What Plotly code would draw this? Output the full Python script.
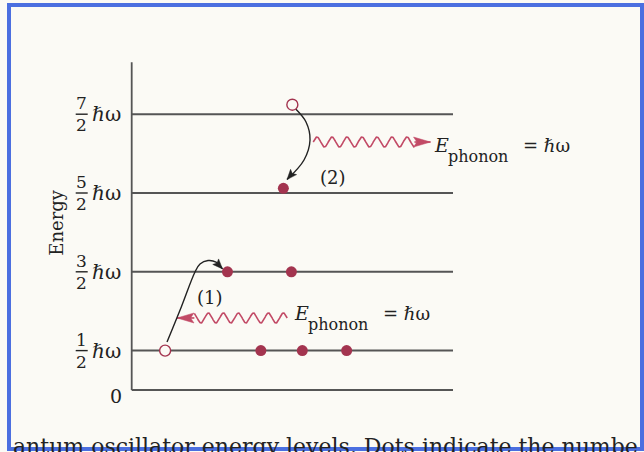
import numpy as np
import plotly.graph_objects as go

# ---- data ----
levels = [0.0, 0.5, 1.5, 2.5, 3.5]
level_nums = ["1", "3", "5", "7"]          # numerators of n+1/2
level_den = "2"
level_frac_values = [0.5, 1.5, 2.5, 3.5]
level_x_end = 10.0
axis_top = 4.16

filled_x = [4.02, 5.31, 6.69, 2.98, 4.97, 4.72]
filled_y = [0.5, 0.5, 0.5, 1.5, 1.5, 2.56]
open_x = [1.04, 5.0]
open_y = [0.5, 3.62]

arrow1_x = [1.099, 1.55, 1.970, 2.126, 2.375, 2.624, 2.826]
arrow1_y = [0.609, 1.06, 1.497, 1.599, 1.643, 1.624, 1.536]
arrow2_x = [5.082, 5.425, 5.550, 5.363, 4.834]
arrow2_y = [3.575, 3.401, 3.173, 2.919, 2.671]

wave2 = dict(x0=5.65, x1=8.80, tip=9.30, y=3.147)   # emitted phonon -> right
wave1 = dict(x0=4.84, x1=1.95, tip=1.41, y=0.914)   # absorbed phonon <- left

# pixel scale of axes (x units / y units per px)
PX_X = 32.13
PX_Y = 78.8
W, H = 644, 452
x_range = [-131.7 / PX_X, (W - 131.7) / PX_X]
y_range = [(390 - H) / PX_Y, 390 / PX_Y]

BG = "#fbfaf5"
LINE = "#555555"
DOT = "#a3344f"
WAVE = "#c24a66"
INK = "#222222"
FONT = "DejaVu Serif"

fig = go.Figure()

# axis line
fig.add_trace(go.Scatter(x=[0, 0], y=[0, axis_top], mode="lines",
                         line=dict(color=LINE, width=1.8), hoverinfo="skip"))
# level lines
for lv in levels:
    fig.add_trace(go.Scatter(x=[0, level_x_end], y=[lv, lv], mode="lines",
                             line=dict(color=LINE, width=2), hoverinfo="skip"))

# waves
def wave_pts(w, amp_px=5.0, lam_px=15.0):
    n = 300
    xs = np.linspace(w["x0"], w["x1"], n)
    dist_px = np.abs(xs - w["x0"]) * PX_X
    ys = w["y"] + (amp_px / PX_Y) * np.sin(2 * np.pi * dist_px / lam_px)
    return xs, ys

def head(tx, ty, dxp, dyp, length_px, half_w_px):
    """filled arrowhead polygon with tip at (tx, ty), pointing along pixel dir."""
    L = np.hypot(dxp, dyp)
    ux, uy = dxp / L, dyp / L
    nx, ny = -uy, ux
    bx, by = -ux * length_px, -uy * length_px
    px = [0, bx + nx * half_w_px, bx * 0.8, bx - nx * half_w_px, 0]
    py = [0, by + ny * half_w_px, by * 0.8, by - ny * half_w_px, 0]
    return ([tx + p / PX_X for p in px], [ty + q / PX_Y for q in py])

for w in (wave2, wave1):
    xs, ys = wave_pts(w)
    fig.add_trace(go.Scatter(x=xs, y=ys, mode="lines",
                             line=dict(color=WAVE, width=1.6), hoverinfo="skip"))
    fig.add_trace(go.Scatter(x=[w["x1"], w["tip"]], y=[w["y"], w["y"]], mode="lines",
                             line=dict(color=WAVE, width=1.6), hoverinfo="skip"))
    hx, hy = head(w["tip"], w["y"], np.sign(w["tip"] - w["x1"]), 0.0, 17, 5)
    fig.add_trace(go.Scatter(x=hx, y=hy, mode="lines", fill="toself", fillcolor=WAVE,
                             line=dict(color=WAVE, width=0.5), hoverinfo="skip"))

# transition curves
for ax_, ay_ in ((arrow1_x, arrow1_y), (arrow2_x, arrow2_y)):
    fig.add_trace(go.Scatter(x=ax_, y=ay_, mode="lines",
                             line=dict(color=INK, width=1.4, shape="spline"),
                             hoverinfo="skip"))
    dxp = (ax_[-1] - ax_[-2]) * PX_X
    dyp = (ay_[-1] - ay_[-2]) * PX_Y
    hx, hy = head(ax_[-1], ay_[-1], dxp, dyp, 10, 4)
    fig.add_trace(go.Scatter(x=hx, y=hy, mode="lines", fill="toself", fillcolor=INK,
                             line=dict(color=INK, width=0.5), hoverinfo="skip"))

# dots
fig.add_trace(go.Scatter(x=filled_x, y=filled_y, mode="markers",
                         marker=dict(size=11, color=DOT, line=dict(width=0)),
                         hoverinfo="skip"))
fig.add_trace(go.Scatter(x=open_x, y=open_y, mode="markers",
                         marker=dict(size=11, color=BG, line=dict(width=1.4, color=DOT)),
                         hoverinfo="skip"))

ann = []
shapes = []

# level labels
for num, lv in zip(level_nums, level_frac_values):
    ann.append(dict(x=0, y=lv, xref="x", yref="y", text=num, showarrow=False,
                    xshift=-50, yshift=11, font=dict(family=FONT, size=17, color=INK)))
    ann.append(dict(x=0, y=lv, xref="x", yref="y", text=level_den, showarrow=False,
                    xshift=-50, yshift=-11, font=dict(family=FONT, size=17, color=INK)))
    ann.append(dict(x=0, y=lv, xref="x", yref="y", text="ℏω", showarrow=False,
                    xshift=-25, yshift=0, font=dict(family=FONT, size=20, color=INK)))
    shapes.append(dict(type="line", xref="x", yref="y", xsizemode="pixel", xanchor=0,
                       x0=-56, x1=-44, y0=lv, y1=lv, line=dict(color=INK, width=1.4)))
ann.append(dict(x=0, y=0, xref="x", yref="y", text="0", showarrow=False,
                xshift=-16, yshift=-6, font=dict(family=FONT, size=19, color=INK)))
ann.append(dict(x=0, y=(390 - 222) / PX_Y, xref="x", yref="y", text="Energy",
                showarrow=False, xshift=-76, textangle=-90,
                font=dict(family=FONT, size=18, color=INK)))

# phonon labels: E, subscript, "= ℏω"
def phonon_label(x_left_px, y_px):
    xl = (x_left_px - 131.7) / PX_X
    yv = (390 - y_px) / PX_Y
    return [
        dict(x=xl, y=yv, xref="x", yref="y", text="<i>E</i>", showarrow=False,
             xanchor="left", borderpad=0, font=dict(family=FONT, size=19, color=INK)),
        dict(x=xl, y=yv, xref="x", yref="y", text="phonon", showarrow=False,
             xanchor="left", xshift=14, yshift=-11, borderpad=0,
             font=dict(family=FONT, size=16, color=INK)),
        dict(x=xl, y=yv, xref="x", yref="y", text="= ℏω", showarrow=False,
             xanchor="left", xshift=89, borderpad=0,
             font=dict(family=FONT, size=18, color=INK)),
    ]

ann += phonon_label(433, 145)
ann += phonon_label(293, 313)
ann.append(dict(x=(333 - 131.7) / PX_X, y=(390 - 177) / PX_Y, xref="x", yref="y",
                text="(2)", showarrow=False, font=dict(family=FONT, size=18, color=INK)))
ann.append(dict(x=(210 - 131.7) / PX_X, y=(390 - 297) / PX_Y, xref="x", yref="y",
                text="(1)", showarrow=False, font=dict(family=FONT, size=18, color=INK)))

# caption (cut by frame)
ann.append(dict(x=11 / W, y=1 - 432 / H, xref="paper", yref="paper", xanchor="left",
                yanchor="top", text="antum oscillator energy levels. Dots indicate the numbe",
                showarrow=False, font=dict(family=FONT, size=22, color=INK)))

# blue frame + mask below it
shapes.append(dict(type="rect", xref="paper", yref="paper", x0=0, x1=1,
                   y0=0, y1=1 - 449 / H, fillcolor=BG, line=dict(width=0), layer="above"))
shapes.append(dict(type="rect", xref="paper", yref="paper", x0=9 / W, x1=642 / W,
                   y0=1 - 449 / H, y1=1 - 5 / H, line=dict(color="#4b6fe0", width=4),
                   layer="above"))

fig.update_layout(
    width=W, height=H, margin=dict(l=0, r=0, t=0, b=0),
    paper_bgcolor=BG, plot_bgcolor=BG, showlegend=False,
    xaxis=dict(range=x_range, visible=False, fixedrange=True),
    yaxis=dict(range=y_range, visible=False, fixedrange=True),
    annotations=ann, shapes=shapes,
)

fig.write_html("out.html")
